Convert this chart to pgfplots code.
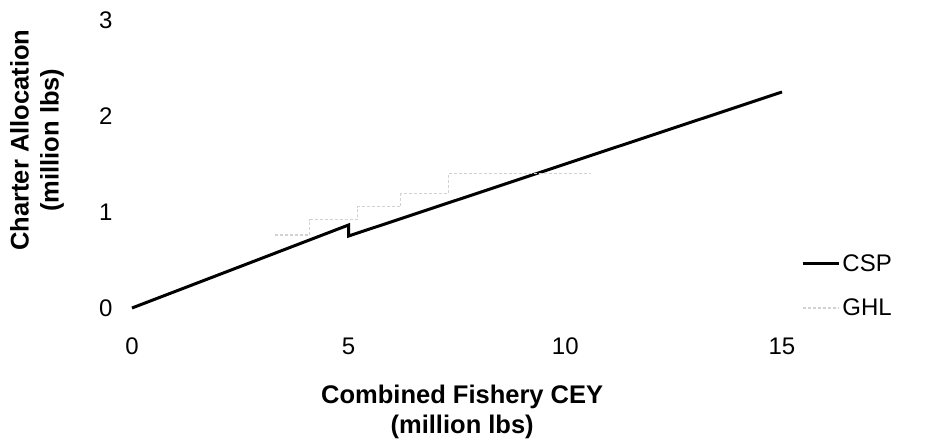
\documentclass[border=0pt]{standalone}
\usepackage{fontspec}
\setmainfont{Liberation Sans}
\usepackage{pgfplots}
\pgfplotsset{compat=1.18}
\begin{document}
\begin{tikzpicture}
\useasboundingbox (-132pt,-136pt) rectangle (811pt,308pt);
\begin{axis}[
  at={(0,0)}, anchor=south west,
  scale only axis, width=650pt, height=288pt,
  xmin=0, xmax=15, ymin=0, ymax=3,
  clip=false,
  xtick={0,5,10,15}, ytick={0,1,2,3},
  axis line style={draw=none},
  tick style={draw=none},
  /pgf/number format/assume math mode=true,
  tick label style={font=\fontsize{24}{28}\selectfont},
  xticklabel shift=26pt,
  yticklabel shift=16pt,
  xlabel={Combined Fishery CEY\\(million lbs)},
  ylabel={Charter Allocation\\(million lbs)},
  label style={font=\bfseries\fontsize{25.5}{30}\selectfont, align=center},
  xlabel style={at={(axis description cs:0.508,-0.36)}, anchor=center},
  ylabel style={at={(axis description cs:-0.146,0.583)}, anchor=center, rotate=0},
  legend style={draw=none, fill=none, at={(axis description cs:1.025,0.2)}, anchor=north west,
    font=\fontsize{24}{28}\selectfont, row sep=22pt},
  legend cell align=left,
  legend image code/.code={\draw[#1] (0pt,0pt) -- (36pt,0pt);},
]
\addplot[black, line width=3pt, line join=miter] coordinates {
  (0,0) (5,0.865) (5,0.75) (15,2.25)
};
\addlegendentry{CSP}
\addplot[gray!35, line width=1.2pt, densely dashed, const plot] coordinates {
  (3.3,0.76) (4.1,0.92) (5.2,1.055) (6.2,1.19) (7.3,1.40) (10.6,1.40)
};
\addlegendentry{GHL}
\end{axis}
\end{tikzpicture}
\end{document}
